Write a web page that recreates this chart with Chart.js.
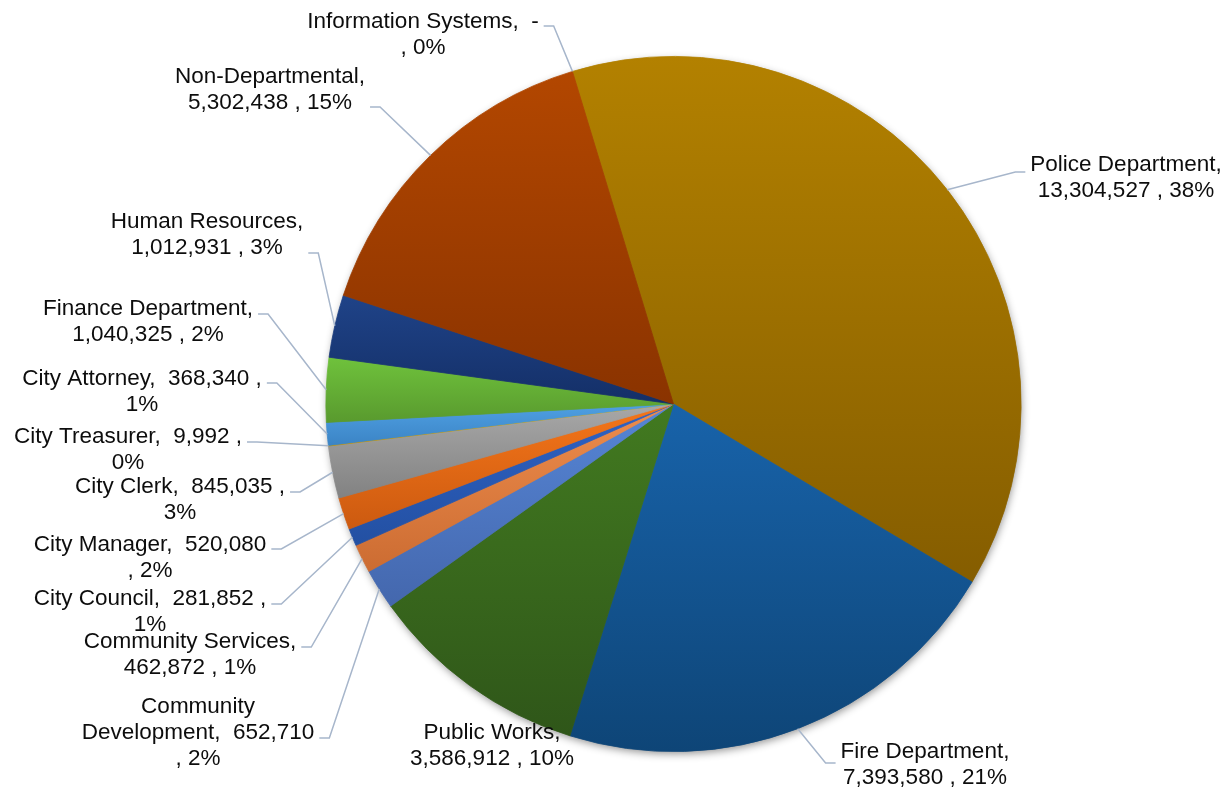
<!DOCTYPE html>
<html>
<head>
<meta charset="utf-8">
<script src="https://cdn.jsdelivr.net/npm/chart.js@4.4.0/dist/chart.umd.min.js"></script>
<style>
  html, body { margin: 0; padding: 0; background: #fff; }
  #wrap { width: 1230px; height: 792px; }
</style>
</head>
<body>
<div id="wrap"><canvas id="budgetChart" width="1230" height="792"></canvas></div>
<script>
// data, clockwise from the top
const departments = ['Police Department', 'Fire Department', 'Public Works', 'Community Development',
  'Community Services', 'City Council', 'City Manager', 'City Clerk', 'City Treasurer',
  'City Attorney', 'Finance Department', 'Human Resources', 'Non-Departmental', 'Information Systems'];
const budget = [13304527, 7393580, 3586912, 652710, 462872, 281852, 520080, 845035, 9992,
  368340, 1040325, 1012931, 5302438, 0];
const budgetText = ['13,304,527', '7,393,580', '3,586,912', '652,710', '462,872', '281,852', '520,080',
  '845,035', '9,992', '368,340', '1,040,325', '1,012,931', '5,302,438', '-'];
const shareText = ['38%', '21%', '10%', '2%', '1%', '1%', '2%', '3%', '0%', '1%', '2%', '3%', '15%', '0%'];

// slice colours (top / bottom of each slice's gradient)
const sliceTop = ['#B38100', '#1863AA', '#427A20', '#5686D6', '#EE8D4D', '#2F63C6', '#F5761A',
  '#A8A8A8', '#F0B400', '#4FA0E3', '#6FC23C', '#1F4388', '#B34700', '#7F7F7F'];
const sliceBottom = ['#855D00', '#0E4577', '#2F5619', '#4467AD', '#CC6C32', '#2350A2', '#CC5A10',
  '#828282', '#C89600', '#3B84C5', '#599A2E', '#142F67', '#8A3300', '#606060'];

// label line breaks ({n} name, {v} value, {p} percent) and placement [centre x, first line y, leader y]
const labelPattern = ['{n},|{v} , {p}', '{n},|{v} , {p}', '{n},|{v} , {p}', 'Community|Development,  {v}|, {p}',
  '{n},|{v} , {p}', '{n},  {v} ,|{p}', '{n},  {v}|, {p}', '{n},  {v} ,|{p}', '{n},  {v} ,|{p}',
  '{n},  {v} ,|{p}', '{n},|{v} , {p}', '{n},|{v} , {p}', '{n},|{v} , {p}', '{n},  {v}|, {p}'];
const labelLayout = [
  [1126, 163, 172], [925, 750, 763], [492, 731, null], [198, 705, 738],
  [190, 640, 647], [150, 597, 604], [150, 543, 549], [180, 485, 492],
  [128, 435, 442], [142, 377, 383], [148, 307, 314], [207, 220, 253],
  [270, 75, 107], [423, 20, 26]
];
const fontSize = 22.5;
const lineHeight = 26;
const leaderColor = '#A7B6CB';

const labelLines = labelPattern.map((pat, i) =>
  pat.replace(/\{(n|v|p)\}/g, (m, k) => k === 'n' ? departments[i] : k === 'v' ? budgetText[i] : shareText[i])
     .split('|'));

function arcExtent(arc) {
  const {x, y, outerRadius: r, startAngle: a0, endAngle: a1} = arc;
  const ys = [y, y + r * Math.sin(a0), y + r * Math.sin(a1)];
  const inside = a => {
    let t = a;
    while (t < a0) t += Math.PI * 2;
    while (t - Math.PI * 2 >= a0) t -= Math.PI * 2;
    return t <= a1;
  };
  if (inside(-Math.PI / 2)) ys.push(y - r);
  if (inside(Math.PI / 2)) ys.push(y + r);
  let top = Math.min(...ys), bottom = Math.max(...ys);
  if (bottom - top < 1) bottom = top + 1;
  return [top, bottom];
}

const pieExtras = {
  id: 'pieExtras',
  beforeDatasetsDraw(chart) {
    const ctx = chart.ctx;
    const arcs = chart.getDatasetMeta(0).data;
    const c = arcs[0];
    ctx.save();
    ctx.shadowColor = 'rgba(0,0,0,0.45)';
    ctx.shadowBlur = 8;
    ctx.shadowOffsetX = 1;
    ctx.shadowOffsetY = 3;
    ctx.beginPath();
    ctx.arc(c.x, c.y, c.outerRadius - 1, 0, Math.PI * 2);
    ctx.fillStyle = '#777';
    ctx.fill();
    ctx.restore();
    arcs.forEach((arc, i) => {
      const [top, bottom] = arcExtent(arc);
      const g = ctx.createLinearGradient(0, top, 0, bottom);
      g.addColorStop(0, sliceTop[i]);
      g.addColorStop(1, sliceBottom[i]);
      arc.options = Object.assign({}, arc.options, {backgroundColor: g, borderColor: g});
    });
  },
  afterDatasetsDraw(chart) {
    const ctx = chart.ctx;
    const arcs = chart.getDatasetMeta(0).data;
    ctx.save();
    ctx.font = fontSize + 'px "Liberation Sans", Arial, sans-serif';
    arcs.forEach((arc, i) => {
      const [cx, y1, ly] = labelLayout[i];
      const lines = labelLines[i];
      const maxW = Math.max(...lines.map(t => ctx.measureText(t).width));
      if (ly !== null) {
        const mid = (arc.startAngle + arc.endAngle) / 2;
        const px = arc.x + arc.outerRadius * Math.cos(mid);
        const py = arc.y + arc.outerRadius * Math.sin(mid);
        const onLeft = cx < arc.x;
        const lx = onLeft ? cx + maxW / 2 + 5 : cx - maxW / 2 - 5;
        const kx = onLeft ? lx + 10 : lx - 10;
        ctx.beginPath();
        ctx.moveTo(px, py);
        ctx.lineTo(kx, ly);
        ctx.lineTo(lx, ly);
        ctx.strokeStyle = leaderColor;
        ctx.lineWidth = 1.5;
        ctx.stroke();
      }
      ctx.fillStyle = '#0d0d0d';
      ctx.textAlign = 'center';
      ctx.textBaseline = 'alphabetic';
      lines.forEach((t, k) => ctx.fillText(t, cx, y1 + k * lineHeight + 8));
    });
    ctx.restore();
  }
};

const ctx = document.getElementById('budgetChart').getContext('2d');
const budgetChart = new Chart(ctx, {
  type: 'pie',
  data: {
    labels: departments,
    datasets: [{
      data: budget,
      backgroundColor: sliceTop,
      borderWidth: 0.8,
      borderColor: sliceTop
    }]
  },
  options: {
    responsive: false,
    animation: false,
    rotation: -16.9,
    layout: { padding: { top: 56, bottom: 40, left: 300, right: 183 } },
    plugins: {
      legend: { display: false },
      tooltip: { enabled: false }
    }
  },
  plugins: [pieExtras]
});
</script>
</body>
</html>
